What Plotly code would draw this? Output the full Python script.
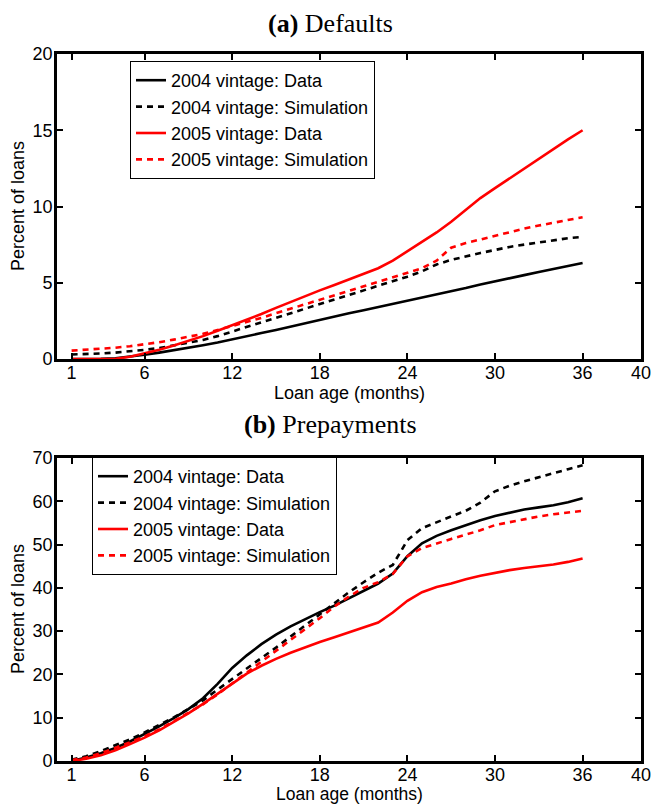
import plotly.graph_objects as go

months = list(range(1, 37))
x_ticks = [1, 6, 12, 18, 24, 30, 36, 40]

# (a) Defaults, percent of loans
def_2004_data = [0.0, 0.0, 0.01, 0.05, 0.15, 0.28, 0.42, 0.57, 0.73, 0.9, 1.08, 1.3, 1.5, 1.7, 1.9, 2.12,
                 2.35, 2.6, 2.8, 3.0, 3.2, 3.4, 3.6, 3.8, 4.0, 4.2, 4.42, 4.65, 4.88, 5.1, 5.3, 5.5,
                 5.7, 5.9, 6.1, 6.3]
def_2004_sim = [0.3, 0.32, 0.36, 0.42, 0.5, 0.6, 0.72, 0.88, 1.05, 1.25, 1.5, 1.8, 2.05, 2.35, 2.65, 2.95,
                3.3, 3.6, 3.9, 4.2, 4.5, 4.8, 5.1, 5.4, 5.75, 6.2, 6.5, 6.75, 6.95, 7.15, 7.35, 7.5,
                7.65, 7.8, 7.92, 8.0]
def_2005_data = [0.0, 0.0, 0.0, 0.02, 0.15, 0.35, 0.6, 0.88, 1.18, 1.5, 1.85, 2.2, 2.55, 2.95, 3.35, 3.75,
                 4.15, 4.5, 4.85, 5.2, 5.55, 5.95, 6.45, 7.05, 7.65, 8.3, 9.0, 9.8, 10.55, 11.2, 11.85,
                 12.5, 13.15, 13.75, 14.4, 15.0]
def_2005_sim = [0.55, 0.6, 0.66, 0.74, 0.84, 0.96, 1.1, 1.27, 1.45, 1.65, 1.9, 2.15, 2.4, 2.7, 3.0, 3.3,
                3.6, 3.9, 4.2, 4.5, 4.8, 5.1, 5.4, 5.7, 5.95, 6.45, 7.3, 7.6, 7.85, 8.1, 8.35, 8.55,
                8.75, 8.95, 9.15, 9.3]

# (b) Prepayments, percent of loans
pre_2004_data = [0.0, 0.8, 1.8, 3.0, 4.5, 6.2, 8.0, 9.9, 12.0, 14.5, 17.8, 21.5, 24.4, 27.0, 29.2, 31.1,
                 32.8, 34.4, 35.9, 37.6, 39.4, 41.0, 43.3, 47.3, 50.3, 52.0, 53.3, 54.5, 55.6, 56.6,
                 57.4, 58.1, 58.6, 59.1, 59.8, 60.7]
pre_2004_sim = [0.3, 1.1, 2.3, 3.6, 5.0, 6.6, 8.3, 10.1, 12.0, 14.0, 16.5, 19.0, 21.5, 23.8, 26.2, 28.8,
                31.4, 34.0, 36.5, 39.0, 41.3, 43.5, 45.3, 51.0, 53.8, 55.2, 56.5, 57.8, 59.7, 62.3,
                63.6, 64.6, 65.6, 66.5, 67.4, 68.3]
pre_2005_data = [0.0, 0.5, 1.3, 2.5, 3.9, 5.4, 7.1, 9.0, 11.0, 13.2, 15.6, 18.0, 20.2, 22.0, 23.6, 25.0,
                 26.3, 27.5, 28.6, 29.7, 30.8, 32.0, 34.3, 37.0, 39.0, 40.2, 41.0, 42.0, 42.8, 43.5,
                 44.1, 44.6, 45.0, 45.4, 46.0, 46.8]
pre_2005_sim = [0.2, 0.8, 1.8, 3.0, 4.3, 5.7, 7.3, 9.2, 11.1, 13.1, 15.4, 17.9, 20.4, 22.8, 25.3, 27.8,
                30.4, 33.0, 35.7, 38.0, 40.0, 41.3, 43.2, 47.3, 49.2, 50.3, 51.3, 52.3, 53.3, 54.5,
                55.2, 55.9, 56.5, 57.0, 57.4, 57.8]

series_names = ["2004 vintage: Data", "2004 vintage: Simulation",
                "2005 vintage: Data", "2005 vintage: Simulation"]
series_colors = ["#000000", "#000000", "#ff0000", "#ff0000"]
series_dash = ["solid", "6px,5px", "solid", "6px,5px"]

x_title = "Loan age (months)"
y_title = "Percent of loans"
panel_titles = ["<b>(a)</b> Defaults", "<b>(b)</b> Prepayments"]

fig = go.Figure()

def add_panel(values, xa, ya, legend):
    for vals, name, col, dash in zip(values, series_names, series_colors, series_dash):
        fig.add_trace(go.Scatter(
            x=months, y=vals, mode="lines", name=name,
            line=dict(color=col, width=2.6, dash=dash),
            xaxis=xa, yaxis=ya, legend=legend,
        ))

add_panel([def_2004_data, def_2004_sim, def_2005_data, def_2005_sim], "x", "y", "legend")
add_panel([pre_2004_data, pre_2004_sim, pre_2005_data, pre_2005_sim], "x2", "y2", "legend2")

W, H = 652, 804
x_dom = [57 / W, 641 / W]
top_dom = [1 - 359 / H, 1 - 54 / H]
bot_dom = [1 - 761 / H, 1 - 458 / H]

sans = "Liberation Sans, Arial, sans-serif"
tick_font = dict(family=sans, size=18, color="black")

def xaxis_cfg(anchor, domain):
    return dict(domain=domain, anchor=anchor, range=[0, 40], tickvals=x_ticks,
                ticks="inside", ticklen=6, tickwidth=2, tickcolor="black",
                showline=True, linewidth=2.6, linecolor="black", mirror="allticks",
                showgrid=False, zeroline=False, tickfont=tick_font, automargin=False,
                ticklabelstandoff=-4)

def yaxis_cfg(anchor, domain, rng, dtick):
    return dict(domain=domain, anchor=anchor, range=rng, dtick=dtick,
                ticks="inside", ticklen=6, tickwidth=2, tickcolor="black",
                showline=True, linewidth=2.6, linecolor="black", mirror="allticks",
                showgrid=False, zeroline=False, tickfont=tick_font, automargin=False,
                ticklabelstandoff=-2)

legend_common = dict(bgcolor="white", bordercolor="black", borderwidth=1,
                     font=dict(family=sans, size=18, color="black"),
                     xanchor="left", yanchor="top", tracegroupgap=0,
                     itemwidth=30)

def ann(text, xpx, ypx, size, family, angle=0):
    return dict(text=text, x=xpx / W, y=1 - ypx / H, xref="paper", yref="paper",
                showarrow=False, xanchor="center", yanchor="middle", textangle=angle,
                font=dict(family=family, size=size, color="black"))

serif = "Liberation Serif, Times New Roman, serif"
annotations = [
    ann(panel_titles[0], 330, 24, 26, serif),
    ann(panel_titles[1], 330, 425, 26, serif),
    ann(x_title, 349, 393, 18, sans),
    ann(x_title, 349, 794, 17.5, sans),
    ann(y_title, 18, 206, 18, sans, -90),
    ann(y_title, 18, 609, 18, sans, -90),
]

fig.update_layout(
    width=W, height=H,
    margin=dict(l=0, r=0, t=0, b=0, autoexpand=False),
    paper_bgcolor="white", plot_bgcolor="white",
    showlegend=True,
    xaxis=xaxis_cfg("y", x_dom),
    yaxis=yaxis_cfg("x", top_dom, [0, 20], 5),
    xaxis2=xaxis_cfg("y2", x_dom),
    yaxis2=yaxis_cfg("x2", bot_dom, [0, 70], 10),
    legend=dict(x=130 / W, y=1 - 61 / H, **legend_common),
    legend2=dict(x=92 / W, y=1 - 457 / H, **legend_common),
    annotations=annotations,
)

fig.write_html("out.html", config={"displayModeBar": False},
               post_script="document.body.style.margin='0';document.body.style.overflow='hidden';")
